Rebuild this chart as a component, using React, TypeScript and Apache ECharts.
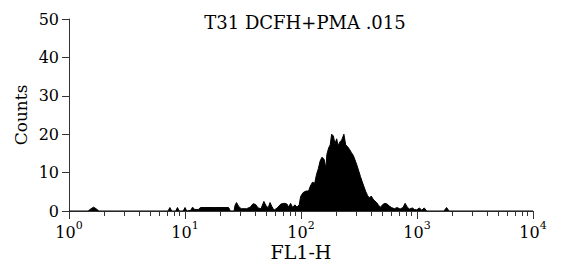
import React, { useEffect, useRef } from "react";
import * as echarts from "echarts";

const TITLE = "T31 DCFH+PMA .015";
const X_NAME = "FL1-H";
const Y_NAME = "Counts";
const Y_MIN = 0;
const Y_MAX = 50;
const Y_STEP = 10;
// decade exponents of the log axis: 10^0 .. 10^4
const X_DECADES = [0, 1, 2, 3, 4];
const MINOR_MULTIPLES = [2, 3, 4, 5, 6, 7, 8, 9];

// FL1-H channel values (linear units) and counts
const fl1 = [
  1.0, 1.46, 1.55, 1.63, 1.71, 1.81,
  7.14, 7.41, 7.68, 8.31, 8.61, 8.92, 9.65, 10.0, 10.36,
  11.21, 11.62, 12.13, 13.03, 13.6, 17.85, 23.75, 24.62,
  26.45, 27.02, 27.81, 29.02, 30.51, 33.97, 36.49, 38.64, 40.61, 42.7,
  45.22, 47.88, 49.63, 52.17, 54.07, 56.04, 58.51, 62.37, 67.0, 71.97,
  75.68, 78.43, 81.28, 84.85, 88.57, 92.44, 96.5, 99.3,
  104.4, 110.5, 116.2, 120.4, 125.7, 131.2, 136.0, 141.0, 146.1, 151.4,
  158.1, 163.8, 167.3, 173.4, 178.5, 183.7, 190.4, 195.9, 203.0, 208.9,
  216.5, 224.4, 234.3, 242.8, 251.5, 262.6, 272.2, 282.0, 292.3, 302.9,
  314.0, 325.4, 337.3, 349.5, 362.2, 375.4, 389.1, 403.3, 417.9, 433.1,
  448.9, 465.2, 485.6, 507.0, 529.2, 552.4, 576.6, 601.9, 637.3, 674.9,
  714.6, 756.8, 790.0, 824.6, 860.8, 911.4, 951.3, 993.0, 1051, 1098,
  1154, 1213, 1710, 1798, 1890, 10000,
];
const counts = [
  0, 0, 0.6, 1.0, 0.6, 0,
  0, 0.9, 0, 0, 0.9, 0, 0, 0.9, 0,
  0.2, 1.0, 0.4, 0.4, 0.9, 0.9, 0.9, 0,
  0, 1.5, 2.2, 1.2, 0.6, 0.6, 1.0, 1.9, 1.7, 0.8,
  0.6, 2.5, 1.5, 0.8, 2.2, 1.2, 0.2, 0.8, 1.8, 2.0,
  1.8, 1.0, 2.0, 0.9, 1.6, 1.0, 1.6, 3.8,
  4.8, 5.2, 5.2, 6.5, 7.5, 7.2, 9.5, 11, 13, 14,
  13.5, 11.2, 14.8, 16.5, 17.2, 20, 19.5, 17.5, 18.8, 17,
  18, 18.5, 20, 17.2, 16.8, 16, 15.2, 14.5, 13.3, 12,
  10.5, 9, 7.6, 6.3, 5, 4, 3.4, 3.9, 3.1, 2.6,
  2.2, 1.5, 1.0, 1.7, 2.0, 1.8, 1.3, 0.9, 0.6, 0.9,
  0.5, 0.9, 2.0, 1.0, 0.5, 0.8, 0.4, 0.3, 0.8, 0.2,
  0.8, 0, 0, 0.9, 0, 0,
];

const FONT = "DejaVu Serif";

export default function App() {
  const ref = useRef<HTMLDivElement>(null);

  useEffect(() => {
    if (!ref.current) return;
    const chart = echarts.init(ref.current, undefined, { renderer: "svg" });
    const minorTicks: number[] = [];
    X_DECADES.slice(0, -1).forEach((d) => {
      MINOR_MULTIPLES.forEach((k) => minorTicks.push(Math.log10(k * Math.pow(10, d))));
    });
    const xMin = X_DECADES[0];
    const xMax = X_DECADES[X_DECADES.length - 1];
    const gridRect = { left: 69, right: 29, top: 19, bottom: 53, outerBoundsMode: "none", containLabel: false };
    const axisColor = "#333";

    chart.setOption({
      animation: false,
      backgroundColor: "#fff",
      textStyle: { fontFamily: FONT },
      title: {
        text: TITLE,
        left: 300,
        top: 8,
        textAlign: "center",
        textStyle: { fontFamily: FONT, fontSize: 18, fontWeight: "normal", color: "#000" },
      },
      grid: [
        { ...gridRect },
        { ...gridRect },
      ],
      xAxis: [
        {
          type: "value",
          gridIndex: 0,
          min: xMin,
          max: xMax,
          interval: 1,
          name: X_NAME,
          nameLocation: "middle",
          nameGap: 31,
          nameMoveOverlap: false,
          nameTextStyle: { fontFamily: FONT, fontSize: 19, color: "#000" },
          axisLine: { show: true, onZero: false, lineStyle: { color: axisColor, width: 1 } },
          axisTick: { show: true, length: 8, lineStyle: { color: axisColor } },
          splitLine: { show: false },
          axisLabel: {
            margin: 9,
            fontFamily: FONT,
            formatter: (v: number) => `{b|10}{s|${v}}`,
            rich: {
              b: { fontFamily: FONT, fontSize: 16, color: "#000", lineHeight: 20, verticalAlign: "bottom" },
              s: { fontFamily: FONT, fontSize: 11, color: "#000", lineHeight: 20, verticalAlign: "top" },
            },
          },
        },
        {
          type: "value",
          gridIndex: 1,
          min: xMin,
          max: xMax,
          axisLine: { show: false },
          axisTick: {
            show: true,
            length: 5,
            customValues: minorTicks,
            lineStyle: { color: axisColor },
          },
          axisLabel: { show: false },
          splitLine: { show: false },
        },
      ],
      yAxis: [
        {
          type: "value",
          gridIndex: 0,
          min: Y_MIN,
          max: Y_MAX,
          interval: Y_STEP,
          name: Y_NAME,
          nameLocation: "middle",
          nameGap: 40,
          nameRotate: 90,
          nameMoveOverlap: false,
          nameTextStyle: { fontFamily: FONT, fontSize: 17, color: "#000" },
          axisLine: { show: true, lineStyle: { color: axisColor, width: 1 } },
          axisTick: { show: true, length: 7, lineStyle: { color: axisColor } },
          splitLine: { show: false },
          axisLabel: { margin: 10, fontFamily: FONT, fontSize: 16, color: "#000" },
        },
        {
          type: "value",
          gridIndex: 1,
          min: Y_MIN,
          max: Y_MAX,
          show: false,
        },
      ],
      series: [
        {
          type: "line",
          xAxisIndex: 0,
          yAxisIndex: 0,
          data: fl1.map((v, i) => [Math.log10(v), counts[i]]),
          showSymbol: false,
          symbol: "none",
          lineStyle: { color: "#000", width: 1 },
          areaStyle: { color: "#000", opacity: 1 },
          z: 1,
        },
      ],
    });
    return () => chart.dispose();
  }, []);

  return (
    <div
      ref={ref}
      style={{ position: "fixed", left: 0, top: 0, width: 562, height: 264, background: "#fff" }}
    />
  );
}
